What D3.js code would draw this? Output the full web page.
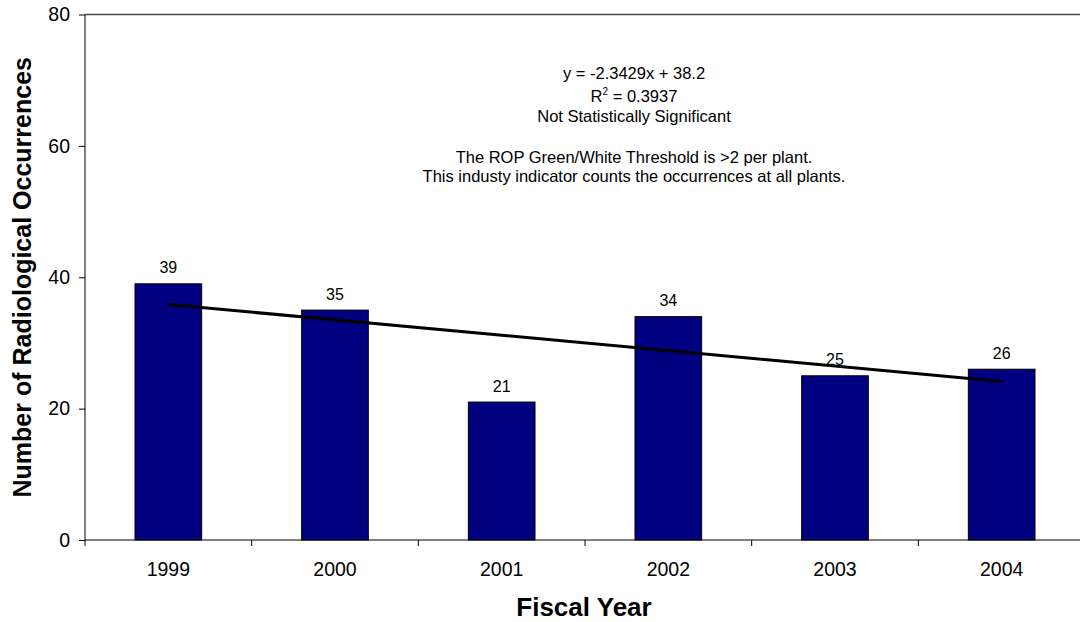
<!DOCTYPE html>
<html><head><meta charset="utf-8">
<script src="https://cdn.jsdelivr.net/npm/d3@7"></script>
<style>body{margin:0;background:#fff}svg{display:block}text{font-family:"Liberation Sans",Arial,sans-serif}</style>
</head><body>
<svg id="c" width="1080" height="622"></svg>
<script>
const years = ["1999","2000","2001","2002","2003","2004"];
const occurrences = [39,35,21,34,25,26];
const yTicks = [0,20,40,60,80];
const trendSlope = -2.3429, trendIntercept = 38.2;
const annotation1 = ["y = -2.3429x + 38.2","R2 = 0.3937","Not Statistically Significant"];
const annotation2 = ["The ROP Green/White Threshold is >2 per plant.","This industy indicator counts the occurrences at all plants."];

const svg = d3.select("#c");
const L=85, R=1085, T=14.5, B=540;
const x = d3.scaleBand().domain(years).range([L,R]).paddingInner(0.6).paddingOuter(0.3);
const xb = d3.scaleBand().domain(years).range([L,R]);
const y = d3.scaleLinear().domain([0,80]).range([B,T]);

// top border
svg.append("line").attr("x1",L).attr("x2",1080).attr("y1",T).attr("y2",T).attr("stroke","#444").attr("stroke-width",1.5);

// bars
svg.selectAll("rect.bar").data(occurrences).join("rect")
  .attr("x",(d,i)=>x(years[i])).attr("width",x.bandwidth())
  .attr("y",d=>y(d)).attr("height",d=>B-y(d))
  .attr("fill","#000080").attr("stroke","#000").attr("stroke-width",1);

// value labels
svg.selectAll("text.val").data(occurrences).join("text")
  .attr("x",(d,i)=>xb(years[i])+xb.bandwidth()/2).attr("y",d=>y(d)-10.5)
  .attr("text-anchor","middle").attr("font-size",16).attr("fill","#000").text(d=>d);

// trendline
const cx = i=>xb(years[i])+xb.bandwidth()/2;
svg.append("line")
  .attr("x1",cx(0)).attr("y1",y(trendSlope*1+trendIntercept))
  .attr("x2",cx(5)).attr("y2",y(trendSlope*6+trendIntercept))
  .attr("stroke","#000").attr("stroke-width",3);

// y axis
const ya = svg.append("g").attr("transform",`translate(${L},0)`)
  .call(d3.axisLeft(y).tickValues(yTicks).tickSize(6).tickPadding(9));
ya.select(".domain").attr("stroke","#000").attr("d",`M0,${B}V${T}`);
ya.selectAll("text").attr("font-size",19.5).attr("font-family","Liberation Sans, Arial, sans-serif").attr("fill","#000");
ya.selectAll("line").attr("stroke","#000");

// x axis
svg.append("line").attr("x1",L).attr("x2",1080).attr("y1",B).attr("y2",B).attr("stroke","#000");
const bounds = years.map(d=>xb(d)).concat([R]);
svg.selectAll("line.xt").data(bounds).join("line")
  .attr("x1",d=>d).attr("x2",d=>d).attr("y1",B).attr("y2",B+6).attr("stroke","#000");
svg.selectAll("text.xl").data(years).join("text")
  .attr("x",d=>xb(d)+xb.bandwidth()/2).attr("y",576)
  .attr("text-anchor","middle").attr("font-size",19.5).text(d=>d);

// titles
svg.append("text").attr("x",584).attr("y",616).attr("text-anchor","middle")
  .attr("font-size",26).attr("font-weight","bold").text("Fiscal Year");
svg.append("text").attr("transform",`translate(31,${(T+B)/2}) rotate(-90)`).attr("text-anchor","middle")
  .attr("font-size",25).attr("font-weight","bold").text("Number of Radiological Occurrences");

// annotation
const ax = 634;
const a = svg.append("g").attr("font-size",16.5).attr("text-anchor","middle");
a.append("text").attr("x",ax).attr("y",78.5).text(annotation1[0]);
const r2 = a.append("text").attr("x",ax).attr("y",101.5);
r2.append("tspan").text("R");
r2.append("tspan").attr("dy",-7).attr("font-size",10).text("2");
r2.append("tspan").attr("dy",7).text(" = 0.3937");
a.append("text").attr("x",ax).attr("y",121.5).text(annotation1[2]);
a.append("text").attr("x",ax).attr("y",162.5).text(annotation2[0]);
a.append("text").attr("x",ax).attr("y",181.5).text(annotation2[1]);
</script>
</body></html>
